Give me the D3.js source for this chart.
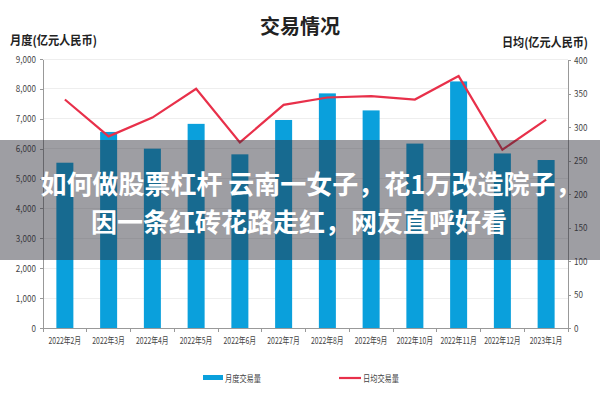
<!DOCTYPE html>
<html>
<head>
<meta charset="utf-8">
<style>
  body { margin: 0; background: #fff; }
  text { font-family: "Noto Sans CJK SC", "Noto Sans", sans-serif; }
  .axis path, .axis line { stroke: #999; shape-rendering: crispEdges; }
  .axis text { fill: #444; font-size: 9.5px; }
  .grid line { stroke: #eee; shape-rendering: crispEdges; }
</style>
<script src="https://cdn.jsdelivr.net/npm/d3@7"></script>
</head>
<body>
<script>
var months = ["2022年2月","2022年3月","2022年4月","2022年5月","2022年6月","2022年7月",
              "2022年8月","2022年9月","2022年10月","2022年11月","2022年12月","2023年1月"];
var monthly = [5530, 6560, 6000, 6830, 5810, 6960, 7850, 7280, 6170, 8250, 5840, 5620];
var daily = [341, 286, 314, 357, 277, 333, 344, 346, 341, 376, 266, 311];
var leftTicks = [0, 1000, 2000, 3000, 4000, 5000, 6000, 7000, 8000, 9000];
var rightTicks = [0, 50, 100, 150, 200, 250, 300, 350, 400];

var W = 600, H = 400;
var mLeft = 43, mRight = 568, mTop = 59, mBottom = 328;

var svg = d3.select("body").append("svg")
    .attr("width", W).attr("height", H);

var xb = d3.scaleBand().domain(months).range([mLeft, mRight]);
var yL = d3.scaleLinear().domain([0, 9000]).range([mBottom, mTop]);
var yR = d3.scaleLinear().domain([0, 400]).range([mBottom, mTop + 1]);

// squeeze text horizontally like the condensed font of the original
function squeeze(sel, k) {
  sel.each(function() {
    var w = this.getComputedTextLength();
    d3.select(this).attr("textLength", w * k).attr("lengthAdjust", "spacingAndGlyphs");
  });
}

// grid
svg.append("g").attr("class", "grid")
  .selectAll("line").data(leftTicks.slice(1)).enter().append("line")
    .attr("x1", mLeft).attr("x2", mRight)
    .attr("y1", function(d) { return yL(d); })
    .attr("y2", function(d) { return yL(d); });

// bars
svg.append("g").selectAll("rect").data(monthly).enter().append("rect")
    .attr("x", function(d, i) { return xb(months[i]) + xb.bandwidth() / 2 - 8.5; })
    .attr("width", 17)
    .attr("y", function(d) { return yL(d); })
    .attr("height", function(d) { return mBottom - yL(d); })
    .attr("fill", "#0aa0dc");

// line
var line = d3.line()
    .x(function(d, i) { return xb(months[i]) + xb.bandwidth() / 2; })
    .y(function(d) { return yR(d); });
svg.append("path").datum(daily)
    .attr("d", line)
    .attr("fill", "none")
    .attr("stroke", "#e8304a")
    .attr("stroke-width", 2.2);

// axes
var axL = svg.append("g").attr("class", "axis")
    .attr("transform", "translate(" + mLeft + ",0)")
    .call(d3.axisLeft(yL).tickValues(leftTicks).tickSize(3).tickSizeOuter(0).tickFormat(d3.format(",")));
axL.selectAll("text").attr("x", -7);
squeeze(axL.selectAll("text"), 0.85);

var axR = svg.append("g").attr("class", "axis")
    .attr("transform", "translate(" + mRight + ",0)")
    .call(d3.axisRight(yR).tickValues(rightTicks).tickSize(3).tickSizeOuter(0));
axR.selectAll("text").attr("x", 6);
squeeze(axR.selectAll("text"), 0.85);

var axB = svg.append("g").attr("class", "axis")
    .attr("transform", "translate(0," + mBottom + ")")
    .call(d3.axisBottom(xb).tickSize(0).tickSizeOuter(0));
axB.selectAll("text").attr("y", 9).style("font-size", "9.5px");
squeeze(axB.selectAll("text"), 0.72);
// ticks at band boundaries
axB.selectAll(".bnd").data(months.concat([null])).enter().append("line")
    .attr("class", "bnd")
    .attr("x1", function(d, i) { return mLeft + i * xb.bandwidth(); })
    .attr("x2", function(d, i) { return mLeft + i * xb.bandwidth(); })
    .attr("y1", 0).attr("y2", 4);

// titles
svg.append("text").attr("x", 300).attr("y", 34).attr("text-anchor", "middle")
    .style("font-size", "20px").style("font-weight", "bold").attr("fill", "#222")
    .text("交易情况");
svg.append("text").attr("x", 10).attr("y", 45)
    .style("font-size", "12.5px").style("font-weight", "bold").attr("fill", "#222")
    .attr("textLength", 87).attr("lengthAdjust", "spacingAndGlyphs")
    .text("月度(亿元人民币)");
svg.append("text").attr("x", 502).attr("y", 47)
    .style("font-size", "12.5px").style("font-weight", "bold").attr("fill", "#222")
    .attr("textLength", 86).attr("lengthAdjust", "spacingAndGlyphs")
    .text("日均(亿元人民币)");

// legend
svg.append("rect").attr("x", 203).attr("y", 375).attr("width", 20).attr("height", 5).attr("fill", "#0aa0dc");
svg.append("text").attr("x", 225).attr("y", 382).style("font-size", "9.5px").attr("fill", "#444")
    .attr("textLength", 36).attr("lengthAdjust", "spacingAndGlyphs").text("月度交易量");
svg.append("line").attr("x1", 339).attr("x2", 361).attr("y1", 378).attr("y2", 378)
    .attr("stroke", "#e8304a").attr("stroke-width", 2.2);
svg.append("text").attr("x", 363).attr("y", 382).style("font-size", "9.5px").attr("fill", "#444")
    .attr("textLength", 36).attr("lengthAdjust", "spacingAndGlyphs").text("日均交易量");

// overlay banner
svg.append("rect").attr("x", 0).attr("y", 140).attr("width", W).attr("height", 120)
    .attr("fill", "rgba(40,40,50,0.45)");
svg.append("text").attr("x", 311).attr("y", 194).attr("text-anchor", "middle")
    .style("font-size", "26px").style("font-weight", "bold").attr("fill", "#fff")
    .text("如何做股票杠杆 云南一女子，花1万改造院子，");
svg.append("text").attr("x", 299).attr("y", 232).attr("text-anchor", "middle")
    .style("font-size", "26px").style("font-weight", "bold").attr("fill", "#fff")
    .text("因一条红砖花路走红，网友直呼好看");
</script>
</body>
</html>
